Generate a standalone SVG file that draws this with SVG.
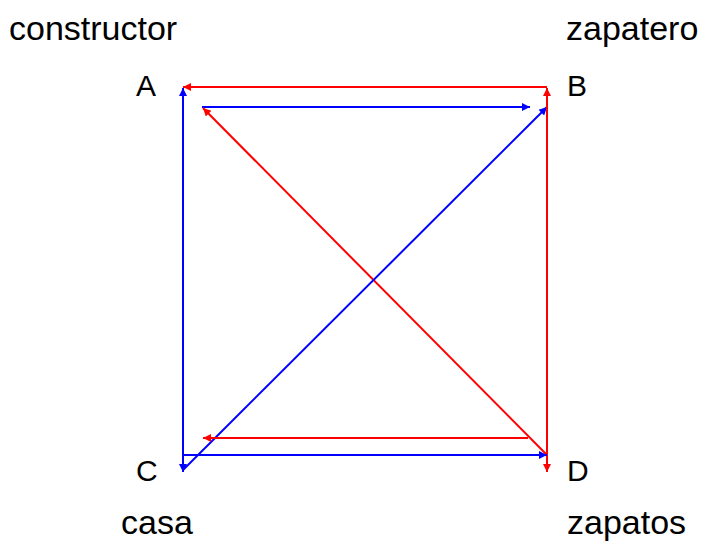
<svg xmlns="http://www.w3.org/2000/svg" width="702" height="542" viewBox="0 0 702 542">
<style>
text{font-family:"Liberation Sans",Arial,sans-serif;font-size:30px;fill:#000}
text.w{font-size:34px}
.r{stroke:#ff0000;stroke-width:2;fill:none}
.b{stroke:#0000ff;stroke-width:2;fill:none}
</style>
<defs>
<marker id="ar" viewBox="0 0 10 10" refX="10" refY="5" markerWidth="9" markerHeight="8" markerUnits="userSpaceOnUse" orient="auto"><path d="M0,0L10,5L0,10z" fill="#ff0000"/></marker>
<marker id="ab" viewBox="0 0 10 10" refX="10" refY="5" markerWidth="9" markerHeight="8" markerUnits="userSpaceOnUse" orient="auto"><path d="M0,0L10,5L0,10z" fill="#0000ff"/></marker>
</defs>
<rect width="702" height="542" fill="#fff"/>
<g id="connectors">
<path class="r" d="M547,87L183,87" marker-end="url(#ar)"/>
<path class="b" d="M183,455L183,88" marker-end="url(#ab)"/>
<path class="b" d="M183,100L183,472" marker-end="url(#ab)"/>
<path class="b" d="M202,107L530,107" marker-end="url(#ab)"/>
<path class="r" d="M547,455L203,108" marker-end="url(#ar)"/>
<path class="b" d="M183,470L547,107" marker-end="url(#ab)"/>
<path class="r" d="M547,470L547,88" marker-end="url(#ar)"/>
<path class="r" d="M547,100L547,472" marker-end="url(#ar)"/>
<path class="r" d="M528,438L203,438" marker-end="url(#ar)"/>
<path class="b" d="M183,455L547,455" marker-end="url(#ab)"/>
</g>
<g id="node-A"><text x="136" y="96">A</text><text class="w" x="9" y="40">constructor</text></g>
<g id="node-B"><text x="567" y="96">B</text><text class="w" x="566" y="40">zapatero</text></g>
<g id="node-C"><text x="136" y="481">C</text><text class="w" x="121" y="534">casa</text></g>
<g id="node-D"><text x="567" y="481">D</text><text class="w" x="567" y="534">zapatos</text></g>
</svg>
